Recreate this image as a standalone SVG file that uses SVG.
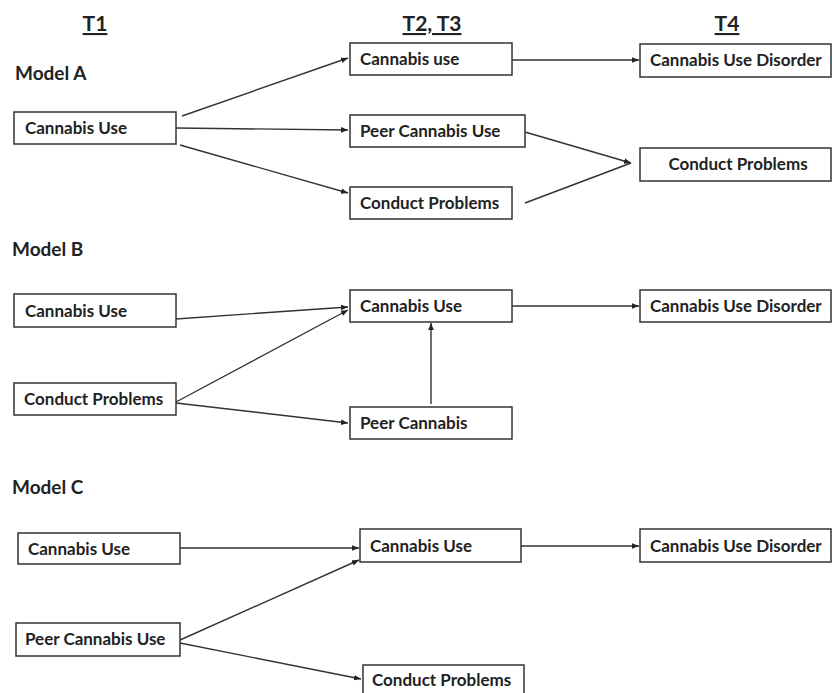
<svg xmlns="http://www.w3.org/2000/svg" width="832" height="693" viewBox="0 0 832 693">
<defs>
<style>
.box{fill:#fff;stroke:#333;stroke-width:1.5}
.t{font-family:Lato,"Open Sans","Liberation Sans",sans-serif;font-weight:bold;font-size:17px;fill:#222}
.h{font-family:Lato,"Open Sans","Liberation Sans",sans-serif;font-weight:bold;font-size:21px;fill:#222;text-decoration:underline}
.m{font-family:Lato,"Open Sans","Liberation Sans",sans-serif;font-weight:bold;font-size:19px;fill:#222}
.c{fill:none;stroke:#333;stroke-width:1.4}
</style>
<marker id="ar" viewBox="0 0 10 10" refX="10" refY="5" markerWidth="7" markerHeight="7" markerUnits="userSpaceOnUse" orient="auto">
<path d="M0,1 L10,5 L0,9 z" fill="#222"/>
</marker>
</defs>
<rect width="832" height="693" fill="#fff"/>
<g id="headers">
<text class="h" x="95" y="31" text-anchor="middle">T1</text>
<text class="h" x="432" y="31" text-anchor="middle">T2, T3</text>
<text class="h" x="727" y="31" text-anchor="middle">T4</text>
<text class="m" x="15" y="80">Model A</text>
<text class="m" x="12" y="256">Model B</text>
<text class="m" x="12" y="494">Model C</text>
</g>
<g id="connectors">
<line class="c" x1="182" y1="116" x2="348" y2="58" marker-end="url(#ar)"/>
<line class="c" x1="176" y1="128" x2="348" y2="130" marker-end="url(#ar)"/>
<line class="c" x1="180" y1="145" x2="348" y2="193" marker-end="url(#ar)"/>
<line class="c" x1="512" y1="60" x2="639" y2="60" marker-end="url(#ar)"/>
<line class="c" x1="525" y1="132" x2="631" y2="163" marker-end="url(#ar)"/>
<line class="c" x1="525" y1="203" x2="631" y2="163"/>
<line class="c" x1="176" y1="319" x2="348" y2="307" marker-end="url(#ar)"/>
<line class="c" x1="176" y1="402" x2="348" y2="310" marker-end="url(#ar)"/>
<line class="c" x1="176" y1="403" x2="348" y2="423" marker-end="url(#ar)"/>
<line class="c" x1="431" y1="404" x2="431" y2="323" marker-end="url(#ar)"/>
<line class="c" x1="512" y1="306" x2="639" y2="306" marker-end="url(#ar)"/>
<line class="c" x1="180" y1="548" x2="359" y2="548" marker-end="url(#ar)"/>
<line class="c" x1="180" y1="640" x2="359" y2="560" marker-end="url(#ar)"/>
<line class="c" x1="180" y1="643" x2="361" y2="679" marker-end="url(#ar)"/>
<line class="c" x1="521" y1="546" x2="639" y2="546" marker-end="url(#ar)"/>
</g>
<g id="a_cu_t1"><rect class="box" x="14" y="112" width="162" height="32"/><text class="t" x="25" y="134">Cannabis Use</text></g>
<g id="a_cu_t2"><rect class="box" x="350" y="43" width="162" height="32"/><text class="t" x="360" y="65">Cannabis use</text></g>
<g id="a_peer_t2"><rect class="box" x="350" y="115" width="175" height="32"/><text class="t" x="360" y="137">Peer Cannabis Use</text></g>
<g id="a_cp_t2"><rect class="box" x="350" y="187" width="162" height="32"/><text class="t" x="360" y="209">Conduct Problems</text></g>
<g id="a_cud_t4"><rect class="box" x="640" y="44" width="191" height="33"/><text class="t" x="650" y="66">Cannabis Use Disorder</text></g>
<g id="a_cp_t4"><rect class="box" x="640" y="148" width="191" height="33"/><text class="t" x="738" y="170" text-anchor="middle">Conduct Problems</text></g>
<g id="b_cu_t1"><rect class="box" x="14" y="294" width="162" height="33"/><text class="t" x="25" y="317">Cannabis Use</text></g>
<g id="b_cp_t1"><rect class="box" x="14" y="383" width="162" height="32"/><text class="t" x="24" y="405">Conduct Problems</text></g>
<g id="b_cu_t2"><rect class="box" x="350" y="290" width="162" height="32"/><text class="t" x="360" y="312">Cannabis Use</text></g>
<g id="b_peer_t2"><rect class="box" x="350" y="407" width="162" height="32"/><text class="t" x="360" y="429">Peer Cannabis</text></g>
<g id="b_cud_t4"><rect class="box" x="640" y="290" width="191" height="32"/><text class="t" x="650" y="312">Cannabis Use Disorder</text></g>
<g id="c_cu_t1"><rect class="box" x="18" y="533" width="162" height="31"/><text class="t" x="28" y="555">Cannabis Use</text></g>
<g id="c_peer_t1"><rect class="box" x="16" y="623" width="164" height="33"/><text class="t" x="25" y="645">Peer Cannabis Use</text></g>
<g id="c_cu_t2"><rect class="box" x="360" y="529" width="161" height="33"/><text class="t" x="370" y="552">Cannabis Use</text></g>
<g id="c_cp_t2"><rect class="box" x="363" y="665" width="161" height="32"/><text class="t" x="372" y="686">Conduct Problems</text></g>
<g id="c_cud_t4"><rect class="box" x="640" y="529" width="191" height="33"/><text class="t" x="650" y="552">Cannabis Use Disorder</text></g>
</svg>
